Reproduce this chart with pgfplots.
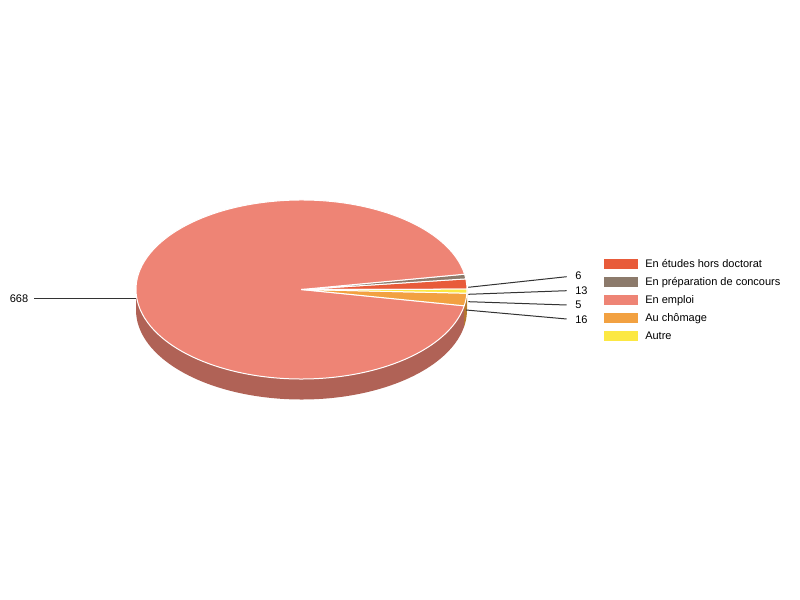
\documentclass[border=0pt]{standalone}
\usepackage{pgfplots}
\pgfplotsset{compat=1.18}
\usepackage{fontspec}
\setmainfont{Liberation Sans}
\definecolor{cEtu}{HTML}{E85B3A}
\definecolor{cPre}{HTML}{8C7A6B}
\definecolor{cEmp}{HTML}{EE8475}
\definecolor{cCho}{HTML}{F2A141}
\definecolor{cAut}{HTML}{FCE843}
\definecolor{sEmp}{HTML}{B06256}
\definecolor{sCho}{HTML}{B5772F}
\definecolor{sAut}{HTML}{BDAA30}
\definecolor{lead}{HTML}{333333}
% data
\def\vA{13}  % En etudes hors doctorat
\def\vB{6}   % En preparation de concours
\def\vC{668} % En emploi
\def\vD{16}  % Au chomage
\def\vE{5}   % Autre
\newcommand{\slice}[3]{%
  \filldraw[fill=#3, draw=white, line width=0.75bp, line join=round]
    (axis cs:301.5,310.5) -- ({301.5+165.5*cos(#1)},{310.5+89.5*sin(#1)})
    arc[start angle=#1, end angle=#2, x radius=124.125bp, y radius=67.125bp] -- cycle;}
\newcommand{\side}[3]{%
  \fill[#3]
    ({301.5+165.5*cos(#1)},{310.5+89.5*sin(#1)})
    arc[start angle=#1, end angle=#2, x radius=124.125bp, y radius=67.125bp]
    -- ++(axis direction cs:0,-20.5)
    arc[start angle=#2, end angle=#1, x radius=124.125bp, y radius=67.125bp] -- cycle;}
\begin{document}
\begin{tikzpicture}
\pgfmathsetmacro{\tot}{\vA+\vB+\vC+\vD+\vE}
\pgfmathsetmacro{\aA}{0.2}
\pgfmathsetmacro{\aB}{\aA+\vA/\tot*360}
\pgfmathsetmacro{\aC}{\aB+\vB/\tot*360}
\pgfmathsetmacro{\aD}{\aC+\vC/\tot*360}
\pgfmathsetmacro{\aE}{\aD+\vD/\tot*360}
\pgfmathsetmacro{\aF}{\aE+\vE/\tot*360}
\begin{axis}[width=600bp,height=450bp,scale only axis,
  xmin=0,xmax=800,ymin=0,ymax=600,hide axis,clip=false]
\path (axis cs:0,0) rectangle (axis cs:800,600);
% side walls
\side{180}{\aD}{sEmp}
\side{\aD}{\aE}{sCho}
\side{\aE}{360}{sAut}
% top
\slice{\aA}{\aB}{cEtu}
\slice{\aB}{\aC}{cPre}
\slice{\aC}{\aD}{cEmp}
\slice{\aD}{\aE}{cCho}
\slice{\aE}{\aF}{cAut}
% leader lines and labels
\begin{scope}[every node/.style={font=\fontsize{8.25bp}{9bp}\selectfont, inner sep=0pt}]
\draw[lead, line width=0.75bp] (axis cs:34,301) -- (axis cs:135.5,301);
\node[anchor=base east] at (axis cs:28.5,297.7) {668};
\draw[lead, line width=0.75bp] (axis cs:468.3,312.7) -- (axis cs:566.7,323.3);
\node[anchor=base west] at (axis cs:575,320) {6};
\draw[lead, line width=0.75bp] (axis cs:468.3,305.7) -- (axis cs:566.7,309.3);
\node[anchor=base west] at (axis cs:575,305) {13};
\draw[lead, line width=0.75bp] (axis cs:468.3,298.3) -- (axis cs:566.7,295);
\node[anchor=base west] at (axis cs:575,291) {5};
\draw[lead, line width=0.75bp] (axis cs:466,290) -- (axis cs:566.7,281);
\node[anchor=base west] at (axis cs:575,276.7) {16};
% legend
\fill[cEtu] (axis cs:604,331) rectangle (axis cs:638,341);
\node[anchor=base west] at (axis cs:645,332) {En études hors doctorat};
\fill[cPre] (axis cs:604,313) rectangle (axis cs:638,323);
\node[anchor=base west] at (axis cs:645,314) {En préparation de concours};
\fill[cEmp] (axis cs:604,295) rectangle (axis cs:638,305);
\node[anchor=base west] at (axis cs:645,296) {En emploi};
\fill[cCho] (axis cs:604,277) rectangle (axis cs:638,287);
\node[anchor=base west] at (axis cs:645,278) {Au chômage};
\fill[cAut] (axis cs:604,259) rectangle (axis cs:638,269);
\node[anchor=base west] at (axis cs:645,260) {Autre};
\end{scope}
\end{axis}
\end{tikzpicture}
\end{document}
